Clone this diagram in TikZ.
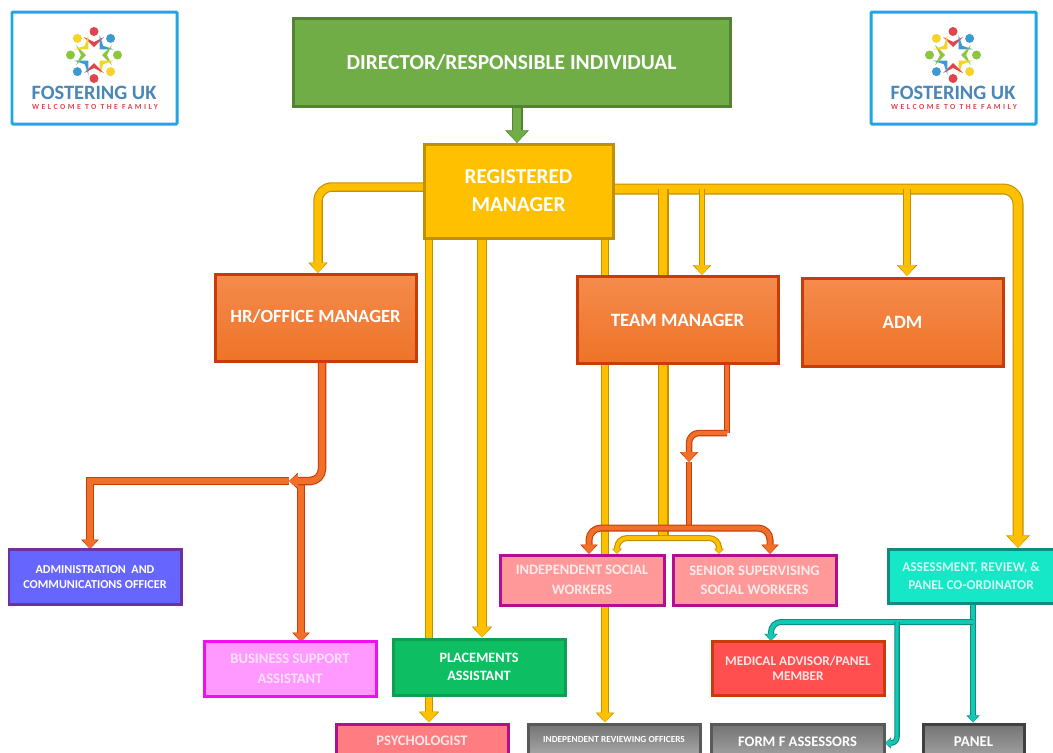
\documentclass[tikz,border=0pt]{standalone}
\usepackage{fontspec}
\setmainfont{Carlito}
\usetikzlibrary{arrows.meta,backgrounds}

\definecolor{directorfill}{HTML}{70AD47}
\definecolor{directorline}{HTML}{548235}
\definecolor{goldfill}{HTML}{FFC000}
\definecolor{goldline}{HTML}{BF9000}
\definecolor{orangetop}{HTML}{F58B4C}
\definecolor{orangebot}{HTML}{EE7328}
\definecolor{orangeline}{HTML}{C83C0A}
\definecolor{pipeorange}{HTML}{F0702A}
\definecolor{pipeteal}{HTML}{12C8B4}
\definecolor{tealline}{HTML}{0E8C80}
\definecolor{tealfill}{HTML}{14E8C6}
\definecolor{pinkline}{HTML}{B0108F}
\definecolor{pinkfill}{HTML}{FF9999}
\definecolor{psychfill}{HTML}{FF7C80}
\definecolor{lilacfill}{HTML}{FF99FF}
\definecolor{lilacline}{HTML}{EE11EE}
\definecolor{greenfill}{HTML}{0DBF62}
\definecolor{greenline}{HTML}{0E9F55}
\definecolor{bluefill}{HTML}{6666FF}
\definecolor{blueline}{HTML}{7030A0}
\definecolor{redfill}{HTML}{FF4F4F}
\definecolor{logoblue}{HTML}{1EA7E1}
\definecolor{logotext}{HTML}{4A86B8}
\definecolor{logored}{HTML}{E0444F}
\definecolor{logodot}{HTML}{3D9AD1}
\definecolor{logogreen}{HTML}{8CC63F}
\definecolor{logoyellow}{HTML}{F5D327}

\tikzset{
    orgbox/.style={rectangle, draw, line width=0.06cm, inner sep=0pt, align=center, text=white},
    boxsize/.style 2 args={minimum width=#1*0.02cm, minimum height=#2*0.02cm},
    boxfont/.style 2 args={font=\fontsize{#1}{#2}\selectfont\bfseries},
    orangebox/.style={orgbox, draw=orangeline, top color=orangetop, bottom color=orangebot},
    pinkbox/.style={orgbox, draw=pinkline, fill=#1, text opacity=0.8},
    graybox/.style={orgbox, draw=black!65, top color=black!55, bottom color=black!35},
    pipe/.style n args={4}{draw=#1, line width=#3*0.02cm, -{Triangle[width=#4*0.02cm,length=#4*0.011cm]},
        postaction={draw=#2, line width=(#3-2.2)*0.02cm, -{Triangle[width=(#4-3)*0.02cm,length=#4*0.011cm]}}},
    pipeplain/.style n args={3}{draw=#1, line width=#3*0.02cm,
        postaction={draw=#2, line width=(#3-2.2)*0.02cm}},
    goldpipe/.style 2 args={pipe={goldline}{goldfill}{#1}{#2}},
    orangepipe/.style 2 args={pipe={orangeline}{pipeorange}{#1}{#2}},
    tealpipe/.style 2 args={pipe={tealline}{pipeteal}{#1}{#2}},
    logo/.pic={
        \draw[logoblue, line width=0.06cm, fill=white, rounded corners=0.02cm] (12,12) rectangle (177,124);
        \foreach \ang/\col in {0/logored,45/logodot,90/logogreen,135/logoyellow,180/logored,225/logodot,270/logogreen,315/logoyellow} {
            \begin{scope}[shift={(94,55)}, rotate=-\ang]
                \fill[\col] (0,-23.5) circle (0.09cm);
                \fill[\col] (-10,-18) -- (0,-8) -- (10,-18) -- (0,-13) -- cycle;
            \end{scope}
        }
        \node (logoname) [text=logotext, inner sep=0pt, font=\fontsize{11.6}{12}\selectfont\bfseries] at (94,92.5) {FOSTERING UK};
        \node (logotag) [text=logored, inner sep=0pt, font=\fontsize{4.4}{5}\selectfont\bfseries\addfontfeatures{LetterSpace=32}] at (95,106.5) {WELCOME TO THE FAMILY};
    }
}

\begin{document}
\begin{tikzpicture}[x=0.02cm, y=-0.02cm]
\path[clip, use as bounding box] (0,0) rectangle (1053,752);

% logos
\pic at (0,0) {logo};
\pic at (859,0) {logo};

% top of the chart
\node (director) [orgbox, boxsize={437}{88}, boxfont={12.2}{14}, draw=directorline, fill=directorfill] at (511.5,62) {\raisebox{-0.08cm}{DIRECTOR/RESPONSIBLE INDIVIDUAL}};
\node (reg) [orgbox, boxsize={189}{94}, boxfont={12.1}{15.9}, draw=goldline, fill=goldfill] at (518.5,191) {REGISTERED\\MANAGER};

% managers
\node (hr) [orangebox, boxsize={201}{87}, boxfont={10.6}{13}] at (315.5,318) {\raisebox{0.08cm}{HR/OFFICE MANAGER}};
\node (team) [orangebox, boxsize={201}{87}, boxfont={10.7}{13}] at (677.5,320) {TEAM MANAGER};
\node (adm) [orangebox, boxsize={201}{88}, boxfont={10.7}{13}] at (902.5,322) {ADM};

% staff
\node (admin) [orgbox, boxsize={172}{55}, boxfont={6.9}{8.5}, draw=blueline, fill=bluefill] at (95,577) {ADMINISTRATION~~AND\\COMMUNICATIONS OFFICER};
\node (business) [orgbox, boxsize={172}{55}, boxfont={8.3}{11.3}, draw=lilacline, fill=lilacfill, text opacity=0.7] at (290,669) {BUSINESS SUPPORT\\ASSISTANT};
\node (placements) [orgbox, boxsize={172}{56}, boxfont={8.1}{10.2}, draw=greenline, fill=greenfill] at (479,667) {PLACEMENTS\\ASSISTANT};
\node (psych) [pinkbox=psychfill, boxsize={172}{34}, boxfont={8.3}{9}] at (422,741) {PSYCHOLOGIST};
\node (iro) [graybox, boxsize={172}{30}, boxfont={5.3}{6}] at (614,739) {INDEPENDENT REVIEWING OFFICERS};
\node (isw) [pinkbox=pinkfill, boxsize={164}{50}, boxfont={8.2}{11.3}] at (582,580) {INDEPENDENT SOCIAL\\WORKERS};
\node (ssw) [pinkbox=pinkfill, boxsize={163}{50}, boxfont={8.3}{10.8}] at (754.5,580) {SENIOR SUPERVISING\\SOCIAL WORKERS};
\node (arp) [orgbox, boxsize={166}{54}, boxfont={7.6}{10.2}, draw=tealline, fill=tealfill, text opacity=0.8] at (971,576) {ASSESSMENT, REVIEW, \&\\PANEL CO-ORDINATOR};
\node (medical) [orgbox, boxsize={172}{54}, boxfont={7.6}{8.5}, draw=orangeline, fill=redfill, text opacity=0.85] at (798,668) {MEDICAL ADVISOR/PANEL\\MEMBER};
\node (formf) [graybox, boxsize={173}{36}, boxfont={8.3}{9}] at (797.5,742) {FORM F ASSESSORS};
\node (panel) [graybox, draw=black!75, boxsize={101}{36}, boxfont={8.5}{9}] at (973.5,742) {PANEL};

% named ends of the connectors
\coordinate (regw) at (424,187);
\coordinate (rege) at (613,189);
\coordinate (hrin) at (318,273);
\coordinate (tmin) at (702,275);
\coordinate (admin1) at (907,276);
\coordinate (arpin) at (1018,548);
\coordinate (regs1) at (429,238);
\coordinate (regs2) at (482,238);
\coordinate (regs3) at (605,238);
\coordinate (swsplit) at (663,538);
\coordinate (iswgold) at (617,554);
\coordinate (sswgold) at (719,554);
\coordinate (hrout) at (322,362);
\coordinate (hrtip) at (289,481);
\coordinate (adminin) at (90,549);
\coordinate (busin) at (301,642);
\coordinate (tmout) at (727,364);
\coordinate (tmcorner) at (727,433);
\coordinate (swtip) at (689,462);
\coordinate (swbar) at (689,528);
\coordinate (iswin) at (589,554);
\coordinate (sswin) at (770,554);
\coordinate (arpout) at (973,604);
\coordinate (arpsplit) at (973,622);
\coordinate (medin) at (771,641);
\coordinate (ffsplit) at (897,622);
\coordinate (ffin) at (885,743);
\coordinate (regin) at (517,143);

% connectors go behind the boxes
\begin{pgfonlayer}{background}
\draw [pipe={directorline}{directorfill}{11}{23}] (director.south -| regin) -- (regin);
\draw [goldpipe={9.5}{19}, rounded corners=0.28cm] (regw) -| (hrin);
\draw [goldpipe={11}{23}, rounded corners=0.3cm] (rege) -| (arpin);
\draw [goldpipe={6.5}{18}] (rege -| tmin) -- (tmin);
\draw [goldpipe={7.5}{20}] (rege -| admin1) -- (admin1);
\draw [goldpipe={8}{20}] (regs1) -- (regs1 |- psych.north);
\draw [goldpipe={10}{20}] (regs2) -- (regs2 |- placements.north);
\draw [goldpipe={8}{18}] (regs3) -- (regs3 |- iro.north);
\draw [pipeplain={goldline}{goldfill}{11}] (rege -| swsplit) -- (swsplit);
\draw [goldpipe={6}{10}, rounded corners=0.2cm] (swsplit) -| (iswgold);
\draw [goldpipe={6}{10}, rounded corners=0.2cm] (swsplit) -| (sswgold);
\draw [orangepipe={7.5}{17}] (hrtip) -| (adminin);
\draw [orangepipe={8}{17}] (hrtip -| busin) -- (busin);
\draw [orangepipe={8.5}{16}, rounded corners=0.24cm] (hrout) |- (hrtip);
\draw [pipeplain={orangeline}{pipeorange}{6.5}] (tmout) -- (tmcorner);
\draw [orangepipe={6.5}{18}, rounded corners=0.2cm] (tmcorner) -| (swtip);
\draw [pipeplain={orangeline}{pipeorange}{6.5}] (swtip) -- (swbar);
\draw [orangepipe={7}{17}, rounded corners=0.24cm] (swbar) -| (iswin);
\draw [orangepipe={7}{17}, rounded corners=0.24cm] (swbar) -| (sswin);
\draw [tealpipe={6.5}{13}] (arpout) -- (arpout |- panel.north);
\draw [tealpipe={6}{13}, rounded corners=0.2cm] (arpsplit) -| (medin);
\draw [tealpipe={5.5}{11}, rounded corners=0.12cm] (ffsplit) |- (ffin);
\end{pgfonlayer}
\end{tikzpicture}
\end{document}
